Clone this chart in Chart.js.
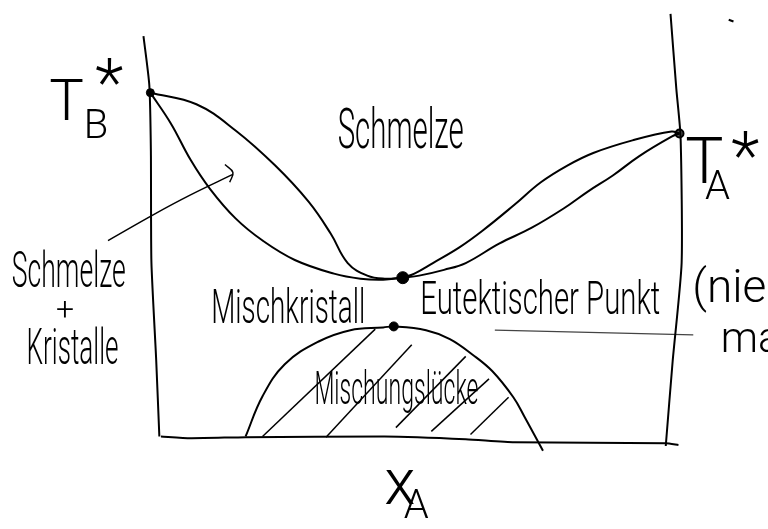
<!DOCTYPE html>
<html lang="de">
<head>
<meta charset="utf-8">
<title>Phasendiagramm mit Mischungslücke</title>
<script src="https://cdn.jsdelivr.net/npm/chart.js@4/dist/chart.umd.min.js"></script>
<style>
  html, body { margin: 0; padding: 0; background: #fff; }
  #diagramm { display: block; }
</style>
</head>
<body>
<canvas id="diagramm" width="768" height="529"></canvas>
<script>
// x_A in %, T relativ (T_B* = 100, Grundlinie = 0)
const linkeAchse = [[-1.3, 116.6], [-0.2, 102.3], [0.1, 82.9], [0.2, 50.3], [1.1, 21.7], [1.7, -0.9]];
const rechteAchse = [[98.3, 123.1], [99.4, 101.1], [100.2, 87.1], [100.4, 50.0], [98.7, 21.1], [97.4, -3.7]];
const grundlinie = [[2.0, -0.9], [7.6, -1.4], [18.0, -1.1], [44.2, -0.9], [59.6, -1.7], [68.8, -2.6], [97.4, -2.9], [99.8, -3.4]];

const liquidusLinks = [[0, 100], [8.7, 96.6], [16.1, 88.9], [23.6, 78.6], [29.9, 68.0], [34.1, 58.6], [37.3, 50.0], [41.0, 46.3], [44.3, 45.4], [47.7, 45.7]];
const solidusLinks = [[0, 100], [3.9, 90.9], [7.6, 80.3], [11.3, 71.7], [16.1, 63.1], [21.2, 56.6], [27.3, 50.9], [34.7, 46.9], [39.7, 45.4], [44.0, 45.1], [47.7, 45.7]];
const liquidusRechts = [[47.7, 45.7], [49.9, 46.9], [53.4, 50.0], [58.4, 54.6], [62.7, 59.4], [68.8, 67.1], [73.8, 73.7], [78.8, 78.6], [83.7, 82.3], [91.1, 86.0], [98.5, 88.6], [100, 88.0]];
const solidusRechts = [[47.7, 45.7], [50.8, 46.3], [55.5, 48.0], [59.6, 50.0], [65.9, 55.7], [72.0, 60.3], [78.1, 66.0], [82.6, 70.9], [87.4, 75.7], [92.4, 81.4], [98.5, 87.1], [100, 88.0]];

const mischungsluecke = [[18.0, -0.9], [21.2, 10.9], [25.4, 20.3], [31.7, 26.9], [37.8, 30.3], [44.0, 31.1], [46.0, 31.4], [52.1, 30.3], [56.6, 27.7], [60.9, 23.1], [64.6, 18.3], [68.6, 10.6], [70.7, 4.9], [74.2, -5.1]];
const schraffur = [
    [[21.2, -0.9], [42.5, 30.6]],
    [[33.2, -1.1], [49.4, 26.0]],
    [[46.4, 1.7], [59.6, 22.6]],
    [[53.1, 0.6], [64.0, 16.0]],
    [[60.5, -0.3], [67.7, 10.6]],
];
const hilfslinie = [[65.1, 30.3], [102.6, 28.9]];
const pfeilSchaft = [[-8.0, 56.6], [0.7, 64.3], [7.6, 70.0], [15.6, 76.0]];
const pfeilSpitze = [[14.1, 78.9], [15.6, 76.6], [15.0, 73.7]];
const strich = [[109.3, 121.4], [110.2, 120.9]];

const punktTB = [[0, 100]];
const punktTA = [[100, 88.0]];
const eutektikum = [[47.7, 45.7]];
const kuppe = [[46.0, 31.4]];

const beschriftungen = ['Schmelze', 'Schmelze', '+', 'Kristalle', 'Mischkristall', 'Eutektischer Punkt',
    '(nied', 'ma', 'Mischungslücke', 'T', 'B', '*', 'T', 'A', '*', 'x', 'A'];

(function () {
    const wertebereichX = { min: -27.09, max: 115.40 };
    const wertebereichY = { min: -26.0, max: 125.14 };

    // Lage der Texte: linker Rand bzw. Grundlinie in Datenkoordinaten
    const textLage = [
        { x: 35.4, y: 83.7, groesse: 56, breite: 126 },
        { x: -26.2, y: 42.9, groesse: 50, breite: 114 },
        { x: -16.1, y: 35.7, groesse: 32, mitte: true },
        { x: -23.4, y: 20.3, groesse: 50, breite: 92 },
        { x: 11.5, y: 32.3, groesse: 48, breite: 154 },
        { x: 51.0, y: 35.1, groesse: 46, breite: 240 },
        { x: 102.4, y: 38.6, groesse: 46 },
        { x: 107.8, y: 24.0, groesse: 42 },
        { x: 31.0, y: 8.6, groesse: 46, breite: 164 },
        { x: -19.1, y: 91.9, groesse: 58 },
        { x: -12.6, y: 86.6, groesse: 40 },
        { x: -10.4, y: 96.1, groesse: 66 },
        { x: 101.1, y: 73.4, groesse: 64 },
        { x: 104.8, y: 68.9, groesse: 40 },
        { x: 109.8, y: 74.7, groesse: 66 },
        { x: 44.2, y: -20.6, groesse: 64 },
        { x: 47.9, y: -24.9, groesse: 40 },
    ];

    const toXY = (punkte) => punkte.map(([x, y]) => ({ x, y }));

    function linie(punkte, extra) {
        return Object.assign({
            data: toXY(punkte),
            showLine: true,
            borderColor: '#000',
            borderWidth: 2,
            pointRadius: 0,
            tension: 0.4,
            fill: false,
        }, extra);
    }

    function punkt(punkte, radius, extra) {
        return Object.assign({
            data: toXY(punkte),
            showLine: false,
            pointRadius: radius,
            pointBackgroundColor: '#000',
            pointBorderColor: '#000',
            pointBorderWidth: 1,
        }, extra);
    }

    const textPlugin = {
        id: 'beschriftung',
        afterDatasetsDraw(chart) {
            const { ctx } = chart;
            const sx = chart.scales.x;
            const sy = chart.scales.y;
            ctx.save();
            ctx.fillStyle = '#000';
            beschriftungen.forEach((text, i) => {
                const lage = textLage[i];
                ctx.font = `300 ${lage.groesse}px Roboto, "Liberation Sans", sans-serif`;
                ctx.textAlign = lage.mitte ? 'center' : 'left';
                ctx.textBaseline = lage.mitte ? 'middle' : 'alphabetic';
                const px = sx.getPixelForValue(lage.x);
                const py = sy.getPixelForValue(lage.y);
                if (lage.breite) {
                    ctx.fillText(text, px, py, lage.breite);
                } else {
                    ctx.fillText(text, px, py);
                }
            });
            ctx.restore();
        },
    };

    const datensaetze = [
        linie(linkeAchse, { tension: 0.2 }),
        linie(rechteAchse, { tension: 0.2 }),
        linie(grundlinie, { tension: 0.2 }),
        linie(liquidusLinks),
        linie(solidusLinks),
        linie(liquidusRechts),
        linie(solidusRechts),
        linie(mischungsluecke),
        ...schraffur.map((s) => linie(s, { borderWidth: 1.5, tension: 0 })),
        linie(hilfslinie, { borderWidth: 1.2, borderColor: '#444', tension: 0 }),
        linie(pfeilSchaft, { borderWidth: 1.5 }),
        linie(pfeilSpitze, { borderWidth: 1.5 }),
        linie(strich, { borderWidth: 2, tension: 0 }),
        punkt(punktTB, 4),
        punkt(punktTA, 4, { pointBackgroundColor: '#555', pointBorderWidth: 2 }),
        punkt(eutektikum, 6),
        punkt(kuppe, 4.5),
    ];

    new Chart(document.getElementById('diagramm'), {
        type: 'scatter',
        data: { datasets: datensaetze },
        options: {
            responsive: false,
            animation: false,
            devicePixelRatio: 1,
            events: [],
            layout: { padding: 0 },
            plugins: { legend: { display: false }, tooltip: { enabled: false }, title: { display: false } },
            scales: {
                x: { type: 'linear', display: false, min: wertebereichX.min, max: wertebereichX.max },
                y: { type: 'linear', display: false, min: wertebereichY.min, max: wertebereichY.max },
            },
        },
        plugins: [textPlugin],
    });
})();
</script>
</body>
</html>
